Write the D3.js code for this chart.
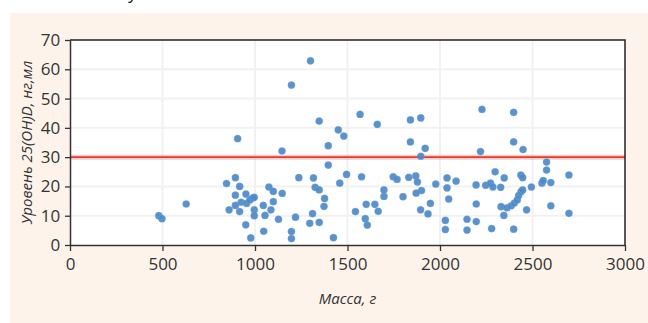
<!DOCTYPE html>
<html><head><meta charset="utf-8">
<script src="https://cdn.jsdelivr.net/npm/d3@7"></script>
<style>html,body{margin:0;padding:0;background:#fff;}svg{display:block;}</style>
</head><body>
<svg id="c" width="648" height="323"></svg>
<script>
const xTicks = [0, 500, 1000, 1500, 2000, 2500, 3000];
const yTicks = [0, 10, 20, 30, 40, 50, 60, 70];
const xLabel = "Масса, г";
const yLabel = "Уровень 25(OH)D, нг,мл";
const threshold = 30;
const mass = [480,497,628,846,894,917,894,894,860,917,906,925,951,955,973,987,996,996,996,950,977,1045,1054,1047,1075,1099,1099,1086,1127,1147,1146,
1197,1300,1197,1197,1219,1237,1316,1325,1347,1376,1373,1311,1296,1347,1424,1347,1450,1480,1396,1396,1495,1458,1543,1568,1576,
1661,1601,1648,1666,1596,1607,1697,1697,1747,1768,1800,1831,1840,1840,1896,1920,1896,1869,1878,1900,1871,1948,1895,1935,1977,
2038,2038,2087,2047,2029,2029,2146,2146,2196,2196,2195,2247,2273,2286,2298,2328,2347,2279,2398,2345,2330,2362,2385,2402,2418,2425,2438,2447,2437,2447,2468,2494,2227,2398,2398,2449,2219,
2576,2576,2599,2551,2558,2697,2599,2697];
const level = [10,9,14,21,23,20,17,13.5,12,11.4,36.3,14.6,17.4,14.2,15.4,16,16.3,12,10,6.9,2.4,13.5,10.1,4.7,19.8,18.3,14.8,12,8.8,17.6,32.1,
54.6,62.9,4.6,2.2,9.5,23,22.9,19.7,18.8,15.9,13.2,10.7,7.4,7.7,2.5,42.3,39.3,37.2,33.9,27.3,24.1,21.1,11.4,44.6,23.3,
41.2,13.9,13.9,11.5,9,6.8,18.8,16.6,23.3,22.4,16.5,23.1,42.7,35.2,43.4,33,30.3,23.6,21.5,18.6,17.7,14.2,12,10.6,20.8,
22.9,19.5,21.8,15.7,8.4,5.3,8.8,5.1,8,14,20.5,20.4,21.1,19.8,25,19.7,22.9,5.6,5.4,10.1,13.1,12.7,13.4,14.3,15.4,16.9,18.2,18.8,23.9,23,12,19.8,46.3,45.3,35.2,32.6,31.9,
28.3,25.6,21.3,21.1,22,23.9,13.4,10.8];

const svg = d3.select("#c");
const W = 648, H = 323;
const m = {l: 70, r: 23, t: 40, b: 78};
const x = d3.scaleLinear().domain([0, 3000]).range([m.l, W - m.r]);
const y = d3.scaleLinear().domain([0, 70]).range([H - m.b, m.t]);

// background panel
svg.append("rect").attr("x", 10).attr("y", 13).attr("width", W - 10).attr("height", H - 13).attr("fill", "#fef3ea");
// cut-off title fragment
svg.append("text").attr("x", 128).attr("y", -1).attr("font-family", "Open Sans, sans-serif").attr("font-size", 18).attr("fill", "#222").text("у");

// plot area
svg.append("rect").attr("x", x(0)).attr("y", y(70)).attr("width", x(3000) - x(0)).attr("height", y(0) - y(70)).attr("fill", "#fff");

// grid
const g = svg.append("g");
g.selectAll(".gx").data(xTicks.slice(1, -1)).join("line")
  .attr("x1", d => x(d)).attr("x2", d => x(d)).attr("y1", y(70)).attr("y2", y(0))
  .attr("stroke", "#f1f1f1").attr("stroke-width", 2);
g.selectAll(".gy").data(yTicks.slice(1, -1)).join("line")
  .attr("x1", x(0)).attr("x2", x(3000)).attr("y1", d => y(d)).attr("y2", d => y(d))
  .attr("stroke", "#f1f1f1").attr("stroke-width", 2);

// threshold line
svg.append("line").attr("x1", x(0)).attr("x2", x(3000)).attr("y1", y(threshold)).attr("y2", y(threshold))
  .attr("stroke", "rgba(235,110,100,0.35)").attr("stroke-width", 5);
svg.append("line").attr("x1", x(0)).attr("x2", x(3000)).attr("y1", y(threshold)).attr("y2", y(threshold))
  .attr("stroke", "#e0402f").attr("stroke-width", 1.6);

// points
const pts = mass.map((d, i) => ({m: d, v: level[i]}));
svg.append("g").selectAll("circle").data(pts).join("circle")
  .attr("cx", d => x(d.m)).attr("cy", d => y(d.v)).attr("r", 3.6)
  .attr("fill", "#4b89c8").attr("fill-opacity", 0.92)
  .attr("stroke", "rgba(120,170,225,0.35)").attr("stroke-width", 1);

// frame top/right
svg.append("path").attr("d", `M${x(0)},${y(70)}H${x(3000)}V${y(0)}`)
  .attr("fill", "none").attr("stroke", "#222").attr("stroke-width", 1.5);

// axes
const font = "Open Sans, sans-serif";
const xa = svg.append("g").attr("transform", `translate(0,${y(0)})`)
  .call(d3.axisBottom(x).tickValues(xTicks).tickSize(6).tickSizeOuter(0).tickFormat(d3.format("d")));
const ya = svg.append("g").attr("transform", `translate(${x(0)},0)`)
  .call(d3.axisLeft(y).tickValues(yTicks).tickSize(5).tickSizeOuter(0));
[xa, ya].forEach(a => {
  a.select(".domain").attr("stroke", "#333").attr("stroke-width", 1.5);
  a.selectAll(".tick line").attr("stroke", "#333").attr("stroke-width", 1.3);
  a.selectAll("text").attr("font-family", font).attr("font-size", 17).attr("fill", "#333");
});
xa.selectAll("text").attr("dy", "0.95em");
ya.selectAll("text").attr("dx", "-0.1em");

svg.append("text").attr("x", (x(0) + x(3000)) / 2).attr("y", 304).attr("text-anchor", "middle")
  .attr("font-family", font).attr("font-style", "italic").attr("font-size", 15).attr("fill", "#333").text(xLabel);
svg.append("text").attr("transform", `translate(32,${(y(0) + y(70)) / 2}) rotate(-90)`).attr("text-anchor", "middle")
  .attr("font-family", font).attr("font-style", "italic").attr("font-size", 15).attr("fill", "#333").text(yLabel);
</script>
</body></html>
